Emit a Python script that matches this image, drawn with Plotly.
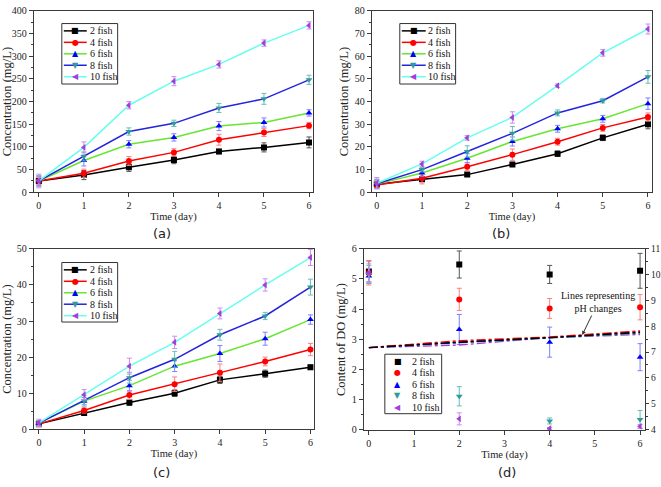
import plotly.graph_objects as go

W, H = 661, 487

# ---------------- data ----------------
days = [0, 1, 2, 3, 4, 5, 6]
do_days = [0, 2, 4, 6]
series_names = ["2 fish", "4 fish", "6 fish", "8 fish", "10 fish"]

# panel (a) concentration (mg/L)
a_2 = [25, 38, 55, 71, 90, 99, 110]
a_4 = [25, 42, 69, 88, 116, 132, 147]
a_6 = [25, 70, 106, 121, 146, 154, 175]
a_8 = [25, 79, 134, 152, 186, 206, 248]
a_10 = [25, 99, 192, 245, 282, 329, 368]
a_err = [[6, 10, 9, 8, 5, 10, 12], [8, 9, 10, 8, 12, 9, 7], [10, 12, 8, 8, 10, 10, 7],
         [12, 10, 8, 7, 10, 12, 10], [15, 12, 8, 10, 8, 7, 8]]

# panel (b)
b_2 = [3.5, 5.8, 7.8, 12.3, 17.0, 24.0, 30.0]
b_4 = [3.2, 6.2, 11.3, 16.6, 22.3, 28.4, 33.2]
b_6 = [3.6, 8.5, 15.0, 22.4, 28.0, 32.4, 39.1]
b_8 = [3.8, 10.0, 18.0, 26.0, 35.0, 40.4, 50.9]
b_10 = [4.0, 12.5, 24.0, 33.0, 47.0, 61.5, 72.0]
b_err = [[1.5, 1.0, 0.8, 0.8, 1.2, 1.2, 2.0], [1.5, 2.5, 1.8, 2.5, 1.5, 1.5, 1.8],
         [2.0, 1.5, 2.0, 2.0, 1.5, 1.5, 2.5], [2.0, 1.0, 2.5, 3.0, 1.3, 1.0, 2.8],
         [2.5, 1.2, 1.0, 2.5, 0.8, 1.5, 2.2]]

# panel (c)
c_2 = [1.5, 4.5, 7.4, 10.0, 13.7, 15.4, 17.2]
c_4 = [1.5, 5.2, 9.5, 12.5, 15.7, 18.8, 22.1]
c_6 = [1.7, 7.8, 12.1, 17.5, 21.0, 25.1, 30.4]
c_8 = [1.7, 7.9, 14.3, 19.4, 26.2, 31.4, 39.4]
c_10 = [1.8, 9.6, 17.5, 24.1, 32.1, 40.0, 47.6]
c_err = [[0.8, 0.5, 0.8, 0.9, 1.0, 1.0, 0.6], [0.8, 0.7, 1.2, 2.0, 2.4, 1.2, 1.7],
         [0.7, 1.0, 1.5, 1.5, 2.2, 1.8, 1.3], [0.7, 1.5, 1.5, 2.2, 1.5, 1.0, 2.2],
         [1.0, 1.4, 2.2, 1.7, 1.5, 1.7, 2.2]]

# panel (d) dissolved oxygen (mg/L) and pH
do_2 = [5.25, 5.48, 5.15, 5.27]
do_4 = [5.20, 4.32, 4.02, 4.06]
do_6 = [5.10, 3.32, 2.90, 2.40]
do_8 = [5.15, 1.10, 0.28, 0.33]
do_10 = [5.20, 0.35, 0.03, 0.10]
do_err = [[0.35, 0.45, 0.30, 0.58], [0.40, 0.37, 0.33, 0.42], [0.25, 0.50, 0.50, 0.45],
          [0.30, 0.32, 0.10, 0.30], [0.30, 0.20, 0.03, 0.06]]
ph_2 = [7.17, 7.38, 7.56, 7.76]
ph_4 = [7.17, 7.44, 7.58, 7.82]
ph_6 = [7.17, 7.38, 7.56, 7.79]
ph_8 = [7.17, 7.36, 7.56, 7.73]
ph_10 = [7.17, 7.27, 7.56, 7.68]

# ---------------- styles ----------------
marker_colors = ["#000000", "#FF0000", "#0000FF", "#2E9A9A", "#A63DD8"]
line_colors = ["#000000", "#FF0000", "#66E633", "#2424E0", "#66FFEE"]
err_colors = ["#555555", "#FF7F7F", "#7F7FFF", "#66BDBD", "#CC8CEE"]
symbols = ["square", "circle", "triangle-up", "triangle-down", "triangle-left"]
glyphs = ["\u25A0", "\u25CF", "\u25B2", "\u25BC", "\u25C0"]

SERIF = "Liberation Serif"
AXC = "#3a3a3a"


def px_x(p):
    return p / W


def px_y(p):
    return 1 - p / H


fig = go.Figure()

panels = [
    ("x", "y", [a_2, a_4, a_6, a_8, a_10], a_err),
    ("x2", "y2", [b_2, b_4, b_6, b_8, b_10], b_err),
    ("x3", "y3", [c_2, c_4, c_6, c_8, c_10], c_err),
]
for xa, ya, vals, errs in panels:
    for i, v in enumerate(vals):
        fig.add_trace(go.Scatter(
            x=days, y=v, mode="lines+markers", name=series_names[i],
            xaxis=xa, yaxis=ya, showlegend=False,
            line=dict(color=line_colors[i], width=1.5),
            marker=dict(symbol=symbols[i], color=marker_colors[i], size=6),
            error_y=dict(type="data", array=errs[i], color=err_colors[i],
                         thickness=1, width=2.5),
        ))

ph_series = [ph_2, ph_4, ph_6, ph_8, ph_10]
for i in reversed(range(len(ph_series))):
    fig.add_trace(go.Scatter(
        x=do_days, y=ph_series[i], mode="lines", name=series_names[i] + " pH",
        xaxis="x4", yaxis="y5", showlegend=False,
        line=dict(color=marker_colors[i], width=1.4, dash="dashdot"),
    ))
for i, v in enumerate([do_2, do_4, do_6, do_8, do_10]):
    fig.add_trace(go.Scatter(
        x=do_days, y=v, mode="markers", name=series_names[i],
        xaxis="x4", yaxis="y4", showlegend=False,
        marker=dict(symbol=symbols[i], color=marker_colors[i], size=6),
        error_y=dict(type="data", array=do_err[i], color=err_colors[i],
                     thickness=1, width=2.5),
    ))


def xaxis(dom, rng, anchor):
    return dict(domain=dom, range=rng, anchor=anchor, dtick=1, tick0=0,
                showline=True, linecolor=AXC, linewidth=1.3, mirror=True,
                ticks="outside", ticklen=4, tickwidth=1, tickcolor=AXC,
                showgrid=False, zeroline=False,
                tickfont=dict(family=SERIF, size=10, color="#222"),
                title=dict(text="Time (day)", font=dict(family=SERIF, size=10.5, color="#222"),
                           standoff=1))


def yaxis(dom, rng, anchor, dtick, minor, title, side="left", overlay=None):
    d = dict(domain=dom, range=rng, anchor=anchor, dtick=dtick, side=side,
             showline=True, linecolor=AXC, linewidth=1.3, mirror=overlay is None,
             ticks="outside", ticklen=4, tickwidth=1, tickcolor=AXC,
             showgrid=False, zeroline=False,
             minor=dict(dtick=minor, ticks="outside", ticklen=2, tickcolor=AXC, showgrid=False),
             tickfont=dict(family=SERIF, size=10, color="#222"))
    if title:
        d["title"] = dict(text=title, font=dict(family=SERIF, size=12.5, color="#222"), standoff=3)
    if overlay:
        d["overlaying"] = overlay
        d["ticklen"] = 3
        d["tickfont"] = dict(family=SERIF, size=9.5, color="#222")
    return d


top_row = [px_y(191), px_y(5)]
bot_row = [px_y(434), px_y(249)]

fig.update_layout(
    width=W, height=H, margin=dict(l=0, r=0, t=0, b=0),
    paper_bgcolor="white", plot_bgcolor="white",
    xaxis=xaxis([px_x(33), px_x(313)], [-0.11, 6.09], "y"),
    yaxis=yaxis(top_row, [0, 400], "x", 50, 25, "Concentration (mg/L)"),
    xaxis2=xaxis([px_x(372), px_x(653)], [-0.11, 6.09], "y2"),
    yaxis2=yaxis(top_row, [0, 80], "x2", 10, 5, "Concentration (mg/L)"),
    xaxis3=xaxis([px_x(33), px_x(314)], [-0.11, 6.08], "y3"),
    yaxis3=yaxis(bot_row, [0, 50], "x3", 10, 5, "Concentration (mg/L)"),
    xaxis4=xaxis([px_x(364), px_x(646)], [-0.11, 6.11], "y4"),
    yaxis4=yaxis([px_y(435), px_y(249)], [-0.03, 6], "x4", 1, 0.5, "Content of DO (mg/L)"),
    yaxis5=yaxis([px_y(435), px_y(249)], [4 - 0.035, 11], "x4", 1, 0.5, None,
                 side="right", overlay="y4"),
)

shapes = []
annotations = []

# legends built from the series definitions
legend_boxes = [
    dict(box=(61, 18, 117, 80), line=(63, 86), mk=74.5, tx=88, lines=True, step=11.75),
    dict(box=(400, 18, 456, 80), line=(402, 426), mk=414, tx=427, lines=True, step=11.75),
    dict(box=(61, 263, 117, 324), line=(63, 86), mk=74.5, tx=88, lines=True, step=11.75),
    dict(box=(385, 357, 442, 418), line=None, mk=398, tx=411, lines=False, step=11.7),
]
for lg in legend_boxes:
    x0, y0, x1, y1 = lg["box"]
    shapes.append(dict(type="rect", xref="paper", yref="paper",
                       x0=px_x(x0), x1=px_x(x1), y0=px_y(y1), y1=px_y(y0),
                       line=dict(color="#333", width=1), fillcolor="white", layer="above"))
    for i, name in enumerate(series_names):
        ry = y0 + 7.5 + i * lg["step"]
        if lg["lines"]:
            lx0, lx1 = lg["line"]
            shapes.append(dict(type="line", xref="paper", yref="paper",
                               x0=px_x(lx0), x1=px_x(lx1), y0=px_y(ry), y1=px_y(ry),
                               line=dict(color=line_colors[i], width=1.5), layer="above"))
        annotations.append(dict(xref="paper", yref="paper", x=px_x(lg["mk"]), y=px_y(ry),
                                text=glyphs[i], showarrow=False, xanchor="center", yanchor="middle",
                                font=dict(family="DejaVu Sans", size=8, color=marker_colors[i]),
                                borderpad=0))
        annotations.append(dict(xref="paper", yref="paper", x=px_x(lg["tx"]), y=px_y(ry),
                                text=name, showarrow=False, xanchor="left", yanchor="middle",
                                font=dict(family=SERIF, size=10, color="#111"), borderpad=0))

# panel (d) note with arrow
annotations.append(dict(xref="x4", yref="y5", x=4.72, y=7.66, ax=16, ay=-33,
                        text="Lines representing<br>pH changes", showarrow=True,
                        arrowhead=2, arrowsize=0.8, arrowwidth=1, arrowcolor="#333",
                        font=dict(family=SERIF, size=10, color="#111")))

# panel labels
for lab, lx, ly in [("(a)", 161, 233), ("(b)", 502, 233), ("(c)", 161, 478), ("(d)", 508, 478)]:
    annotations.append(dict(xref="paper", yref="paper", x=px_x(lx), y=px_y(ly), text=lab,
                            showarrow=False, xanchor="center", yanchor="middle",
                            font=dict(family="DejaVu Sans", size=13, color="#222")))

fig.update_layout(shapes=shapes, annotations=annotations)
fig.write_html("out.html", config={"displayModeBar": False},
               post_script="document.body.style.margin='0';document.body.style.overflow='hidden';")
